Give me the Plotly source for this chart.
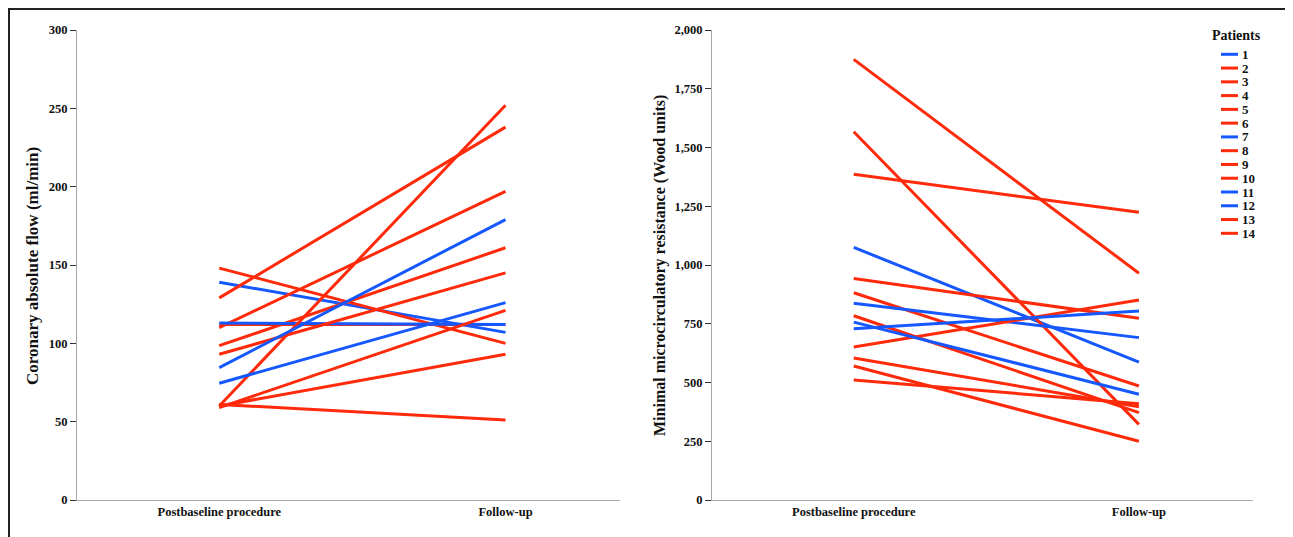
import plotly.graph_objects as go
from plotly.subplots import make_subplots

# ---------------- data ----------------
timepoints = ["Postbaseline procedure", "Follow-up"]
patients = ["1", "2", "3", "4", "5", "6", "7", "8", "9", "10", "11", "12", "13", "14"]
patient_group = ["blue", "red", "red", "red", "red", "red", "blue",
                 "red", "red", "red", "blue", "blue", "red", "red"]

# Coronary absolute flow (ml/min)
flow_post = [139, 112, 148, 129, 110, 98.5, 113, 93, 60, 59, 84.5, 74.5, 60, 61]
flow_follow = [107, 112, 100, 238, 197, 161, 112, 145, 252, 121, 179, 126, 93, 51]

# Minimal microcirculatory resistance (Wood units)
res_post = [1075, 1875, 1567, 1386, 943, 882, 837, 784, 651, 604, 757, 729, 570, 511]
res_follow = [587, 965, 322, 1224, 773, 485, 691, 372, 851, 397, 450, 804, 250, 410]

left_ticks = [0, 50, 100, 150, 200, 250, 300]
right_ticks = [0, 250, 500, 750, 1000, 1250, 1500, 1750, 2000]

# ---------------- style ----------------
W, H = 1293, 537
OFF = 8  # page body margin
COLORS = {"blue": "#1558FF", "red": "#FF2A0A"}
FONT = "Liberation Serif, Times New Roman, serif"


def px_x(p):
    return (p - OFF) / W


def px_y(p):
    return 1 - (p - OFF) / H


fig = make_subplots(rows=1, cols=2)

for i, pid in enumerate(patients):
    c = COLORS[patient_group[i]]
    fig.add_trace(go.Scatter(x=timepoints, y=[flow_post[i], flow_follow[i]], mode="lines",
                             line=dict(color=c, width=3), name=pid, showlegend=False),
                  row=1, col=1)
    fig.add_trace(go.Scatter(x=timepoints, y=[res_post[i], res_follow[i]], mode="lines",
                             line=dict(color=c, width=3), name=pid, showlegend=False),
                  row=1, col=2)

tickfont = dict(family=FONT, size=12.5, color="#111", weight="bold")
common_x = dict(type="category", showline=True, linecolor="#A8A8A8", linewidth=1,
                ticks="", showgrid=False, zeroline=False, tickfont=tickfont,
                range=[-0.497, 1.40], fixedrange=True, automargin=False)
common_y = dict(showline=True, linecolor="#A8A8A8", linewidth=1, ticks="outside",
                ticklen=6, tickcolor="#333", tickwidth=1, showgrid=False,
                zeroline=False, tickfont=tickfont, automargin=False)

fig.update_xaxes(**common_x)
fig.update_yaxes(**common_y)

fig.update_layout(
    width=W, height=H,
    autosize=False,
    margin=dict(l=0, r=0, t=0, b=0, pad=0),
    paper_bgcolor="white", plot_bgcolor="white",
    showlegend=False,
    xaxis=dict(domain=[px_x(77), px_x(620)]),
    xaxis2=dict(domain=[px_x(712), px_x(1253)]),
    yaxis=dict(domain=[px_y(500), px_y(30)], range=[0, 300], tickvals=left_ticks),
    yaxis2=dict(domain=[px_y(500), px_y(30)], range=[0, 2000], tickvals=right_ticks,
                tickformat=",d"),
)

annotations = [
    dict(x=px_x(32), y=px_y(266), xref="paper", yref="paper", xanchor="center",
         yanchor="middle", text="Coronary absolute flow (ml/min)", textangle=-90,
         showarrow=False, font=dict(family=FONT, size=17, color="#111", weight="bold")),
    dict(x=px_x(660), y=px_y(266), xref="paper", yref="paper", xanchor="center",
         yanchor="middle", text="Minimal microcirculatory resistance (Wood units)",
         textangle=-90, showarrow=False,
         font=dict(family=FONT, size=16, color="#111", weight="bold")),
    dict(x=px_x(1236), y=px_y(35), xref="paper", yref="paper", xanchor="center",
         yanchor="middle", text="Patients", showarrow=False,
         font=dict(family=FONT, size=14, color="#111", weight="bold")),
]

shapes = [
    dict(type="rect", xref="paper", yref="paper", x0=1 / W, x1=px_x(1289),
         y0=px_y(560), y1=1 - 1 / H, line=dict(color="#222", width=2),
         fillcolor="rgba(0,0,0,0)"),
]

step = 13.77
for i, pid in enumerate(patients):
    yy = 54.3 + i * step
    c = COLORS[patient_group[i]]
    shapes.append(dict(type="line", xref="paper", yref="paper",
                       x0=px_x(1221), x1=px_x(1238), y0=px_y(yy), y1=px_y(yy),
                       line=dict(color=c, width=3)))
    annotations.append(dict(x=px_x(1240), y=px_y(yy), xref="paper", yref="paper",
                            text=pid, showarrow=False, xanchor="left", yanchor="middle",
                            font=dict(family=FONT, size=13, color="#111", weight="bold")))

fig.update_layout(annotations=annotations, shapes=shapes)

fig.write_html("out.html")
